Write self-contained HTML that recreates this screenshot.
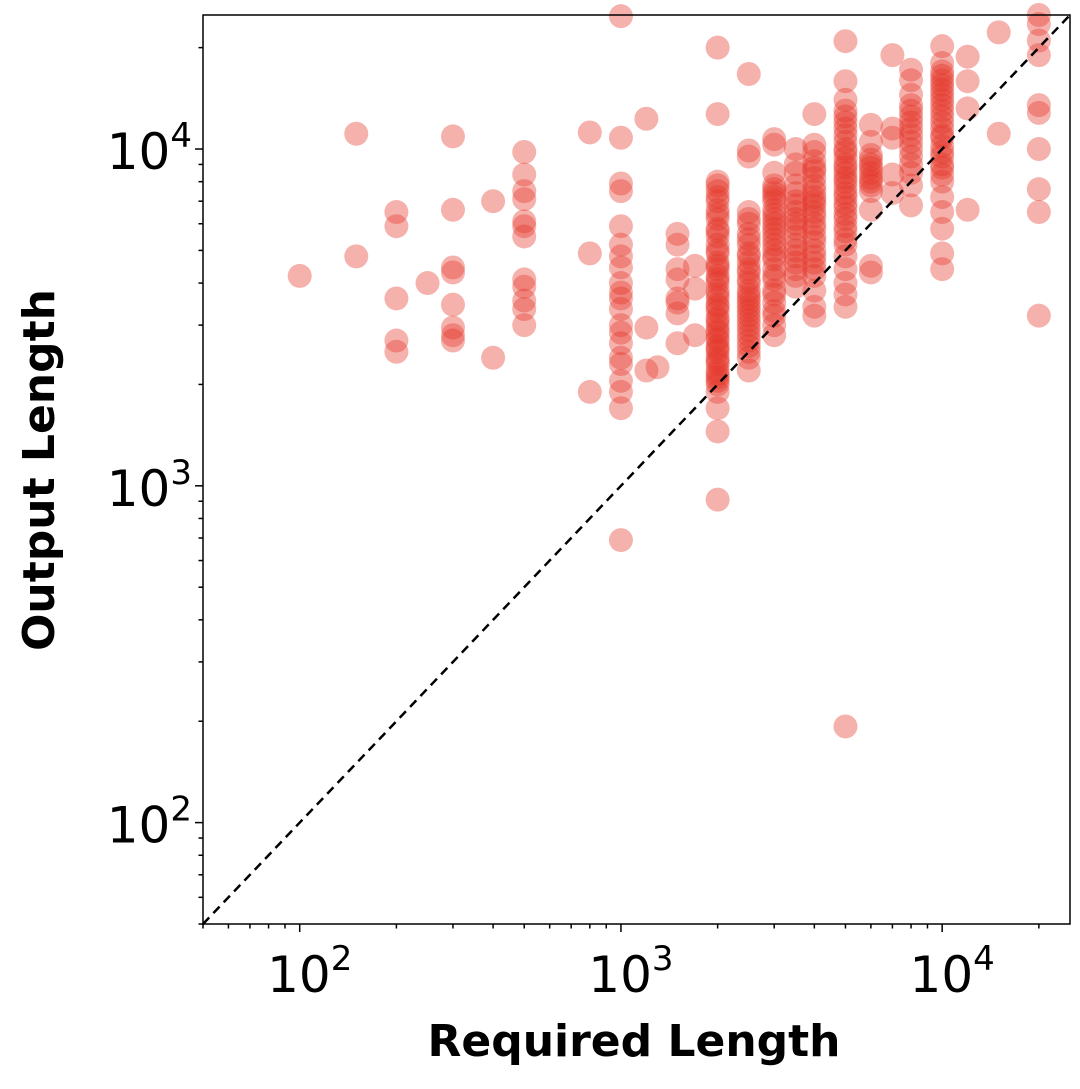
<!DOCTYPE html>
<html><head><meta charset="utf-8"><style>
html,body{margin:0;padding:0;background:#fff;}
svg{display:block;font-family:"DejaVu Sans","Liberation Sans",sans-serif;}
</style></head><body>
<svg id="chart" width="1080" height="1089" viewBox="0 0 1080 1089" xmlns="http://www.w3.org/2000/svg">
<g id="points"></g>
<line id="diag" stroke="#000" stroke-width="2.5" stroke-dasharray="9,6"/>
<rect x="203" y="15" width="867" height="909" fill="none" stroke="#000" stroke-width="1.5"/>
<g id="ticks"></g>
<text x="634" y="1056" text-anchor="middle" font-size="44" font-weight="bold">Required Length</text>
<text transform="translate(54,470) rotate(-90)" text-anchor="middle" font-size="44" font-weight="bold">Output Length</text>
</svg>
<script>
const xTickVals = [100, 1000, 10000];
const yTickVals = [100, 1000, 10000];
const xs = [100,150,150,200,200,200,200,200,250,300,300,300,300,300,300,300,300,400,400,
500,500,500,500,500,500,500,500,500,500,500,500,800,800,800,
1000,1000,1000,1000,1000,1000,1000,1000,1000,1000,1000,1000,1000,1000,1000,1000,1000,1000,1000,1000,1000,
1200,1200,1200,1300,1500,1500,1500,1500,1500,1500,1500,1500,1700,1700,1700,
2000,2000,2000,2000,2000,2000,2000,2000,2000,2000,2000,2000,2000,2000,2000,2000,2000,2000,2000,2000,2000,2000,2000,2000,2000,2000,2000,2000,2000,2000,2000,2000,2000,2000,
2500,2500,2500,2500,2500,2500,2500,2500,2500,2500,2500,2500,2500,2500,2500,2500,2500,2500,2500,2500,
3000,3000,3000,3000,3000,3000,3000,3000,3000,3000,3000,3000,3000,3000,3000,3000,3000,3000,3000,
3500,3500,3500,3500,3500,3500,3500,3500,3500,3500,3500,
4000,4000,4000,4000,4000,4000,4000,4000,4000,4000,4000,4000,4000,4000,4000,4000,
5000,5000,5000,5000,5000,5000,5000,5000,5000,5000,5000,5000,5000,5000,5000,5000,5000,5000,5000,5000,5000,5000,
6000,6000,6000,6000,6000,6000,6000,6000,6000,6000,
7000,7000,7000,7000,7000,
8000,8000,8000,8000,8000,8000,8000,8000,8000,8000,8000,
10000,10000,10000,10000,10000,10000,10000,10000,10000,10000,10000,10000,10000,10000,10000,10000,10000,10000,
12000,12000,12000,12000,15000,15000,
20000,20000,20000,20000,20000,20000,20000,20000,20000,20000,
2000,2000,2000,2000,2000,2000,2000,2000,2000,2000,2000,2000,2000,2000,2000,2000,
2500,2500,2500,2500,2500,2500,2500,2500,2500,2500,2500,2500,
3000,3000,3000,3000,3000,3000,3000,3000,3000,3000,
3500,3500,3500,3500,3500,3500,3500,3500,
4000,4000,4000,4000,4000,4000,4000,4000,4000,4000,
5000,5000,5000,5000,5000,5000,5000,5000,5000,5000,5000,5000,
10000,10000,10000,10000,10000,10000,10000,10000,10000,10000,
8000,8000,8000,8000,8000,6000,6000,6000,6000];
const ys = [4200,11100,4800,6500,5900,3600,2700,2500,4000,10900,6600,4450,4300,3450,2950,2800,2700,7000,2400,
9800,8400,7500,7100,6100,5900,5500,4100,3900,3550,3350,3000,11200,4900,1900,
24800,10800,7900,7500,5900,5200,4800,4450,4000,3750,3600,3350,3000,2850,2650,2400,2300,2050,1900,1700,690,
12300,2950,2200,2250,5600,5200,4400,4100,3600,3500,3250,2650,4500,3850,2800,
8000,7500,7000,6600,6200,5800,5500,5200,4900,4600,4400,4200,4000,3800,3600,3450,3300,3150,3000,2850,2700,2600,2500,2400,2300,2200,2100,2000,1900,20000,12700,1700,1450,910,
6500,6000,5600,5200,4900,4600,4300,4000,3800,3600,3400,3200,3000,2800,2600,2400,2200,16700,9900,9500,
10700,10300,8500,7800,7400,7000,6600,6200,5800,5400,5000,4700,4400,4100,3800,3500,3200,3000,2800,
10000,9000,7800,7000,6500,6000,5500,5000,4600,4200,3900,
12700,10300,9800,8800,8200,7500,7000,6500,6000,5500,5000,4600,4200,3800,3400,3200,
20900,15900,14000,13000,12000,11000,10000,9400,8800,8200,7700,7200,6700,6200,5700,5200,4800,4400,4000,3700,3400,193,
11800,10500,9600,9000,8500,8000,7500,6600,4500,4300,
19000,11500,10800,7400,8400,
17200,16000,14500,13500,12500,11500,10500,9500,8500,7800,6800,
20200,18000,17000,16000,15000,14000,13000,12000,11000,10200,9500,8800,8000,7200,6500,5800,4900,4400,
18800,15900,13200,6600,22200,11100,
25000,23500,21000,19000,13500,12800,10000,7600,6500,3200,
7800,7200,6400,5700,5000,4500,4100,3700,3400,3100,2900,2750,2550,2350,2150,2050,
6200,5400,4800,4400,4100,3700,3500,3300,3100,2900,2700,2500,
7600,7200,6400,6000,5600,5200,4800,4200,3700,3300,
8500,7400,6800,6200,5800,5200,4800,4400,
9200,8600,7800,7200,6800,6300,5800,5300,4800,4400,
12500,11500,10500,9800,9000,8500,8000,7400,6900,6400,5900,5400,
16500,15500,14500,13500,12500,11500,10800,9800,9000,8400,
13000,12000,11000,10000,9000,9300,8800,8200,7800];

const L=203,R=1070,T=15,B=924;
const XMIN=Math.log10(50),XMAX=Math.log10(25000),YMIN=Math.log10(50),YMAX=Math.log10(25000);
const sx=v=>L+(Math.log10(v)-XMIN)/(XMAX-XMIN)*(R-L);
const sy=v=>B-(Math.log10(v)-YMIN)/(YMAX-YMIN)*(B-T);
const NS="http://www.w3.org/2000/svg";
const pts=document.getElementById('points');
for(let i=0;i<xs.length;i++){
  const c=document.createElementNS(NS,'circle');
  
  
  c.setAttribute('cx',sx(xs[i]));c.setAttribute('cy',sy(ys[i]));c.setAttribute('r',12);
  c.setAttribute('fill','rgba(228,52,40,0.38)');
  pts.appendChild(c);
}
const d=document.getElementById('diag');
d.setAttribute('x1',sx(50));d.setAttribute('y1',sy(50));d.setAttribute('x2',sx(25000));d.setAttribute('y2',sy(25000));
const tk=document.getElementById('ticks');
function line(x1,y1,x2,y2,name){const l=document.createElementNS(NS,'line');
  
  
  l.setAttribute('x1',x1);l.setAttribute('y1',y1);l.setAttribute('x2',x2);l.setAttribute('y2',y2);
  l.setAttribute('stroke','#000');l.setAttribute('stroke-width',1.5);tk.appendChild(l);}
for(let e=1;e<=4;e++){for(let m=1;m<10;m++){const v=m*Math.pow(10,e);
  if(v<50||v>25000)continue;const maj=(m===1);const len=maj?8:4.5;
  line(sx(v),B,sx(v),B+len,maj?'x-major-tick':'x-minor-tick');
  line(L,sy(v),L-len,sy(v),maj?'y-major-tick':'y-minor-tick');}}
function lab(x,y,exp,anchor,name){const t=document.createElementNS(NS,'text');
  
  
  t.setAttribute('x',x);t.setAttribute('y',y);t.setAttribute('text-anchor',anchor);t.setAttribute('font-size',50);
  t.innerHTML='10<tspan dy="-22" font-size="34">'+exp+'</tspan>';tk.appendChild(t);}
xTickVals.forEach(v=>lab(sx(v)+10,992,Math.round(Math.log10(v)),'middle','x-tick-label'));
yTickVals.forEach(v=>lab(192,sy(v)+20,Math.round(Math.log10(v)),'end','y-tick-label'));
</script>
</body></html>
